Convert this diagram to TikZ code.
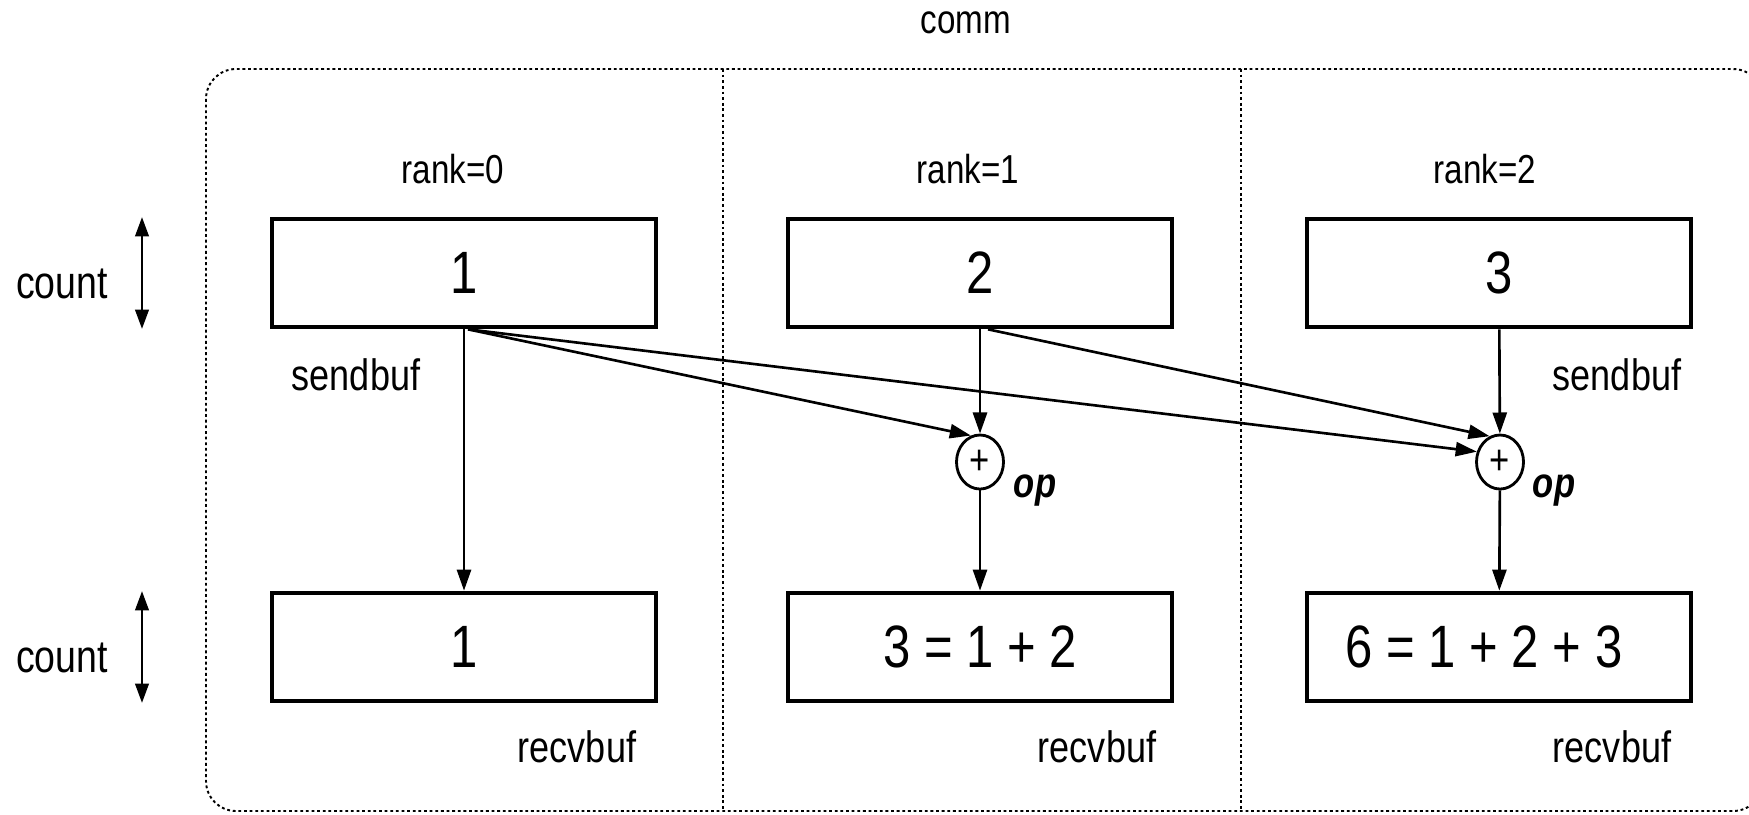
\documentclass[tikz,border=0pt]{standalone}
\usepackage{fontspec}
\setmainfont{Liberation Sans}[FakeStretch=0.82]
\usetikzlibrary{positioning, shapes.geometric, arrows.meta}

\tikzset{
  buf/.style = {draw, line width=1.3pt, minimum width=3.84cm, minimum height=1.08cm, inner sep=0pt, font=\fontsize{17}{17}\selectfont},
  opc/.style = {draw, ellipse, line width=0.8pt, minimum width=0.47cm, minimum height=0.54cm, inner sep=0pt, font=\fontsize{12}{12}\selectfont},
  lbl/.style = {anchor=base, font=\fontsize{12.5}{12.5}\selectfont},
  ranklbl/.style = {anchor=base, font=\fontsize{11.5}{11.5}\selectfont},
  oplbl/.style = {anchor=base, font=\fontsize{12}{12}\selectfont\bfseries\itshape},
  flow/.style = {-{Triangle[length=6pt,width=4pt]}, line width=0.75pt},
  dim/.style = {{Triangle[length=5.5pt,width=3.8pt]}-{Triangle[length=5.5pt,width=3.8pt]}, line width=0.8pt},
  frame/.style = {line width=0.55pt, dash pattern=on 0.8pt off 0.8pt}
}

\begin{document}
\begin{tikzpicture}[x=0.01cm, y=-0.01cm]
  \useasboundingbox (0,0) rectangle (1749,814);
  % communicator
  \draw[frame, rounded corners=0.3cm] (206,69) rectangle (1763,811);
  \draw[frame] (723,69) -- (723,811);
  \draw[frame] (1241,69) -- (1241,811);
  \node[anchor=base, font=\fontsize{11.5}{11.5}\selectfont] (comm) at (966,33) {comm};

  \node[ranklbl] (k0) at (453,183) {rank=0};
  \node[ranklbl] (k1) at (968,183) {rank=1};
  \node[ranklbl] (k2) at (1485,183) {rank=2};

  % buffers
  \node[buf] (s0) at (464,273) {1};
  \node[buf] (s1) at (980,273) {2};
  \node[buf] (s2) at (1499,273) {3};
  \node[buf] (r0) at (464,647) {1};
  \node[buf] (r1) at (980,647) {3 = 1 + 2};
  \node[buf] (r2) at (1499,647) {6 = 1 + 2 + 3\hspace*{0.3cm}};

  \node[lbl] (sb0) at (356,390) {sendbuf};
  \node[lbl] (sb2) at (1617,390) {sendbuf};
  \node[lbl] (rb0) at (577,762) {recvbuf};
  \node[lbl] (rb1) at (1097,762) {recvbuf};
  \node[lbl] (rb2) at (1612,762) {recvbuf};

  % reduction
  \node[opc] (c1) at (980,462) {+};
  \node[opc] (c2) at (1500,462) {+};
  \node[oplbl] (op1) at (1035,497) {op};
  \node[oplbl] (op2) at (1554,497) {op};

  \draw[flow] (s0) -- (r0);
  \draw[flow] (s1) -- (c1);
  \draw[flow] (c1) -- (r1);
  \draw[flow] (s2) -- (c2);
  \draw[flow] (c2) -- (r2);
  \draw[flow] ([xshift=0.04cm]s0.south) -- (c1.109);
  \draw[flow] ([xshift=0.04cm]s0.south) -- (c2.156);
  \draw[flow] ([xshift=0.08cm]s1.south) -- (c2.112);

  % count
  \node[anchor=base, font=\fontsize{13}{13}\selectfont] (n0) at (62,298) {count};
  \node[anchor=base, font=\fontsize{13}{13}\selectfont] (n1) at (62,672) {count};
  \coordinate (ct0) at (142,217);
  \coordinate (cb0) at (142,329);
  \coordinate (ct1) at (142,591);
  \coordinate (cb1) at (142,703);
  \draw[dim] (ct0) -- (cb0);
  \draw[dim] (ct1) -- (cb1);
\end{tikzpicture}
\end{document}
